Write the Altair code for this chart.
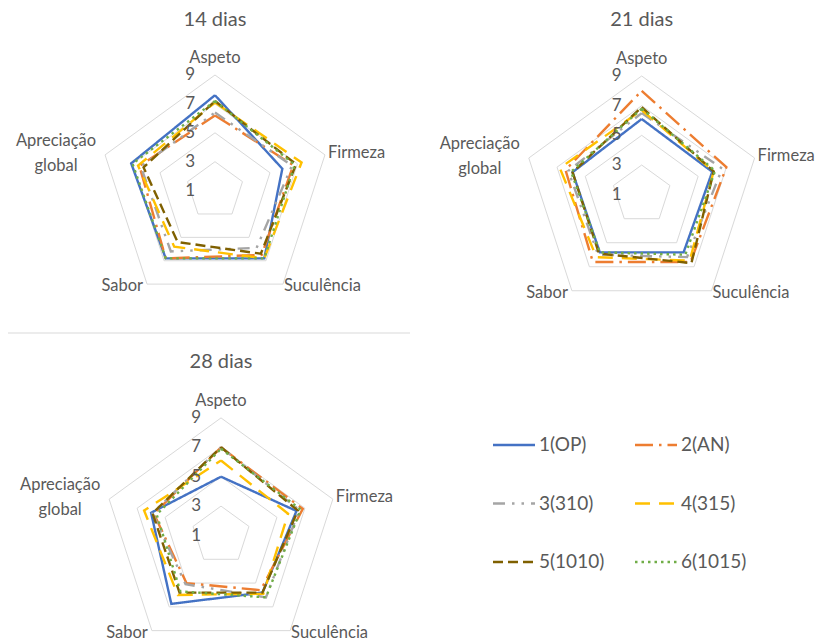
import altair as alt
import pandas as pd

# ---------------- data ----------------
categories = ["Aspeto", "Firmeza", "Suculência", "Sabor", "Apreciação global"]
series = ["1(OP)", "2(AN)", "3(310)", "4(315)", "5(1010)", "6(1015)"]
days = ["14 dias", "21 dias", "28 dias"]
tick_values = [1, 3, 5, 7, 9]
grid_values = [3, 5, 7, 9]

# one row per series, values in the order of `categories`
scores_14 = [
    [7.6, 5.9, 6.8, 6.8, 7.1],
    [6.2, 6.7, 6.5, 6.8, 6.5],
    [6.4, 6.6, 5.9, 6.2, 6.4],
    [7.1, 7.3, 6.8, 5.8, 6.6],
    [7.2, 6.9, 6.4, 5.4, 6.2],
    [7.2, 6.8, 6.8, 6.8, 7.0],
]
scores_21 = [
    [6.1, 6.0, 5.8, 5.8, 5.9],
    [8.0, 7.0, 6.6, 6.6, 6.4],
    [6.5, 6.7, 6.2, 6.0, 6.2],
    [6.7, 6.1, 6.5, 6.2, 6.8],
    [6.9, 6.1, 6.7, 5.9, 5.9],
    [6.8, 6.2, 6.0, 5.8, 6.0],
]
scores_28 = [
    [5.0, 6.4, 5.8, 6.75, 6.0],
    [7.0, 6.85, 5.6, 5.0, 5.8],
    [7.0, 6.6, 6.2, 5.1, 5.9],
    [6.1, 5.8, 5.9, 6.0, 6.5],
    [7.0, 6.5, 5.8, 5.8, 5.9],
    [6.9, 6.7, 6.2, 5.7, 5.6],
]
all_scores = [scores_14, scores_21, scores_28]

# ---------------- style / layout ----------------
colors = ["#4472C4", "#ED7D31", "#A5A5A5", "#FFC000", "#7F6000", "#70AD47"]
dashes = [[1, 0], [18, 6, 2.5, 6], [12, 7, 2.5, 7, 2.5, 7], [15, 9], [10, 5], [2.5, 4]]
TEXT = "#595959"
GRID = "#D9D9D9"
FONT = "Lato"
W, H = 810, 636
# centre x, centre y, pixels per score point, title y
layout = [
    dict(cx=207, cy=182.6, k=14.45, ty=12),
    dict(cx=633.7, cy=186.7, k=14.84, ty=12),
    dict(cx=213, cy=527.5, k=14.7, ty=354),
]

xs = alt.Scale(domain=[0, W], nice=False, zero=False)
ys = alt.Scale(domain=[0, H], nice=False, zero=False, reverse=True)
color_enc = alt.Color("series:N", scale=alt.Scale(domain=series, range=colors), legend=None)
dash_enc = alt.StrokeDash("series:N", scale=alt.Scale(domain=series, range=dashes), legend=None)


def pos(cx, cy, k):
    return dict(
        px=f"{cx} + (datum.score - {tick_values[0]}) * {k} * sin(datum.idx * 2 * PI / 5)",
        py=f"{cy} - (datum.score - {tick_values[0]}) * {k} * cos(datum.idx * 2 * PI / 5)",
    )


XY = dict(x=alt.X("px:Q", scale=xs, axis=None), y=alt.Y("py:Q", scale=ys, axis=None))

layers = []
for day, scores, L in zip(days, all_scores, layout):
    p = pos(L["cx"], L["cy"], L["k"])
    n = len(categories)

    # grid pentagons
    grid_df = pd.DataFrame(
        [{"level": g, "score": g, "idx": i} for g in grid_values for i in range(n + 1)]
    )
    layers.append(
        alt.Chart(grid_df)
        .transform_calculate(**p)
        .mark_line(color=GRID, strokeWidth=1)
        .encode(**XY, detail="level:N", order="idx:Q")
    )

    # series polygons
    rows = []
    for s, vals in zip(series, scores):
        closed = vals + vals[:1]
        for i, v in enumerate(closed):
            rows.append({"series": s, "idx": i, "score": v})
    sdf = pd.DataFrame(rows)
    layers.append(
        alt.Chart(sdf)
        .transform_calculate(**p)
        .mark_line(strokeWidth=2.4, strokeJoin="miter")
        .encode(**XY, color=color_enc, strokeDash=dash_enc, order="idx:Q")
    )

    # tick labels along the first spoke
    tdf = pd.DataFrame({"score": tick_values, "idx": 0, "label": [str(t) for t in tick_values]})
    layers.append(
        alt.Chart(tdf)
        .transform_calculate(**p)
        .mark_text(align="right", baseline="middle", dx=-20, fontSize=17, font=FONT, color=TEXT)
        .encode(**XY, text="label:N")
    )

    # category labels at the outer vertices
    label_style = [
        dict(align="center", baseline="middle", dx=0, dy=-17),
        dict(align="left", baseline="middle", dx=3, dy=-2),
        dict(align="left", baseline="middle", dx=1, dy=2),
        dict(align="right", baseline="middle", dx=-4, dy=2),
        dict(align="center", baseline="middle", dx=-49, dy=-14, lineBreak=" ", lineHeight=25),
    ]
    for i, (cat, st) in enumerate(zip(categories, label_style)):
        cdf = pd.DataFrame({"category": [cat], "idx": [i], "score": [tick_values[-1]]})
        layers.append(
            alt.Chart(cdf)
            .transform_calculate(**p)
            .mark_text(fontSize=16.5, font=FONT, color=TEXT, **st)
            .encode(**XY, text="category:N")
        )

    # panel title
    ttl = pd.DataFrame({"title": [day], "tx": [L["cx"]], "ty": [L["ty"]]})
    layers.append(
        alt.Chart(ttl)
        .mark_text(fontSize=20, font=FONT, color=TEXT, baseline="middle")
        .encode(x=alt.X("tx:Q", scale=xs, axis=None), y=alt.Y("ty:Q", scale=ys, axis=None), text="title:N")
    )

# separator line under the first panel
layers.append(
    alt.Chart(pd.DataFrame({"a": [0]}))
    .mark_rule(color=GRID, strokeWidth=1)
    .encode(x=alt.value(0), x2=alt.value(402), y=alt.value(325))
)

# legend (2 columns x 3 rows)
ldf = pd.DataFrame({"series": series, "i": list(range(len(series)))})
leg_calc = dict(
    col="datum.i % 2",
    row="floor(datum.i / 2)",
    lx1="485 + datum.col * 142",
    lx2="datum.lx1 + 42",
    ltx="datum.lx2 + 4",
    ly="437 + datum.row * 58.5",
)
layers.append(
    alt.Chart(ldf)
    .transform_calculate(**leg_calc)
    .mark_rule(strokeWidth=2.6)
    .encode(
        x=alt.X("lx1:Q", scale=xs, axis=None),
        x2="lx2:Q",
        y=alt.Y("ly:Q", scale=ys, axis=None),
        color=color_enc,
        strokeDash=dash_enc,
    )
)
layers.append(
    alt.Chart(ldf)
    .transform_calculate(**leg_calc)
    .mark_text(align="left", baseline="middle", fontSize=19, font=FONT, color=TEXT)
    .encode(x=alt.X("ltx:Q", scale=xs, axis=None), y=alt.Y("ly:Q", scale=ys, axis=None), text="series:N")
)

chart = (
    alt.layer(*layers)
    .properties(width=W, height=H, padding=0, autosize=alt.AutoSizeParams(type="none"))
    .configure_view(stroke=None)
)

chart.save("out.html", embed_options={"renderer": "svg", "actions": False})
